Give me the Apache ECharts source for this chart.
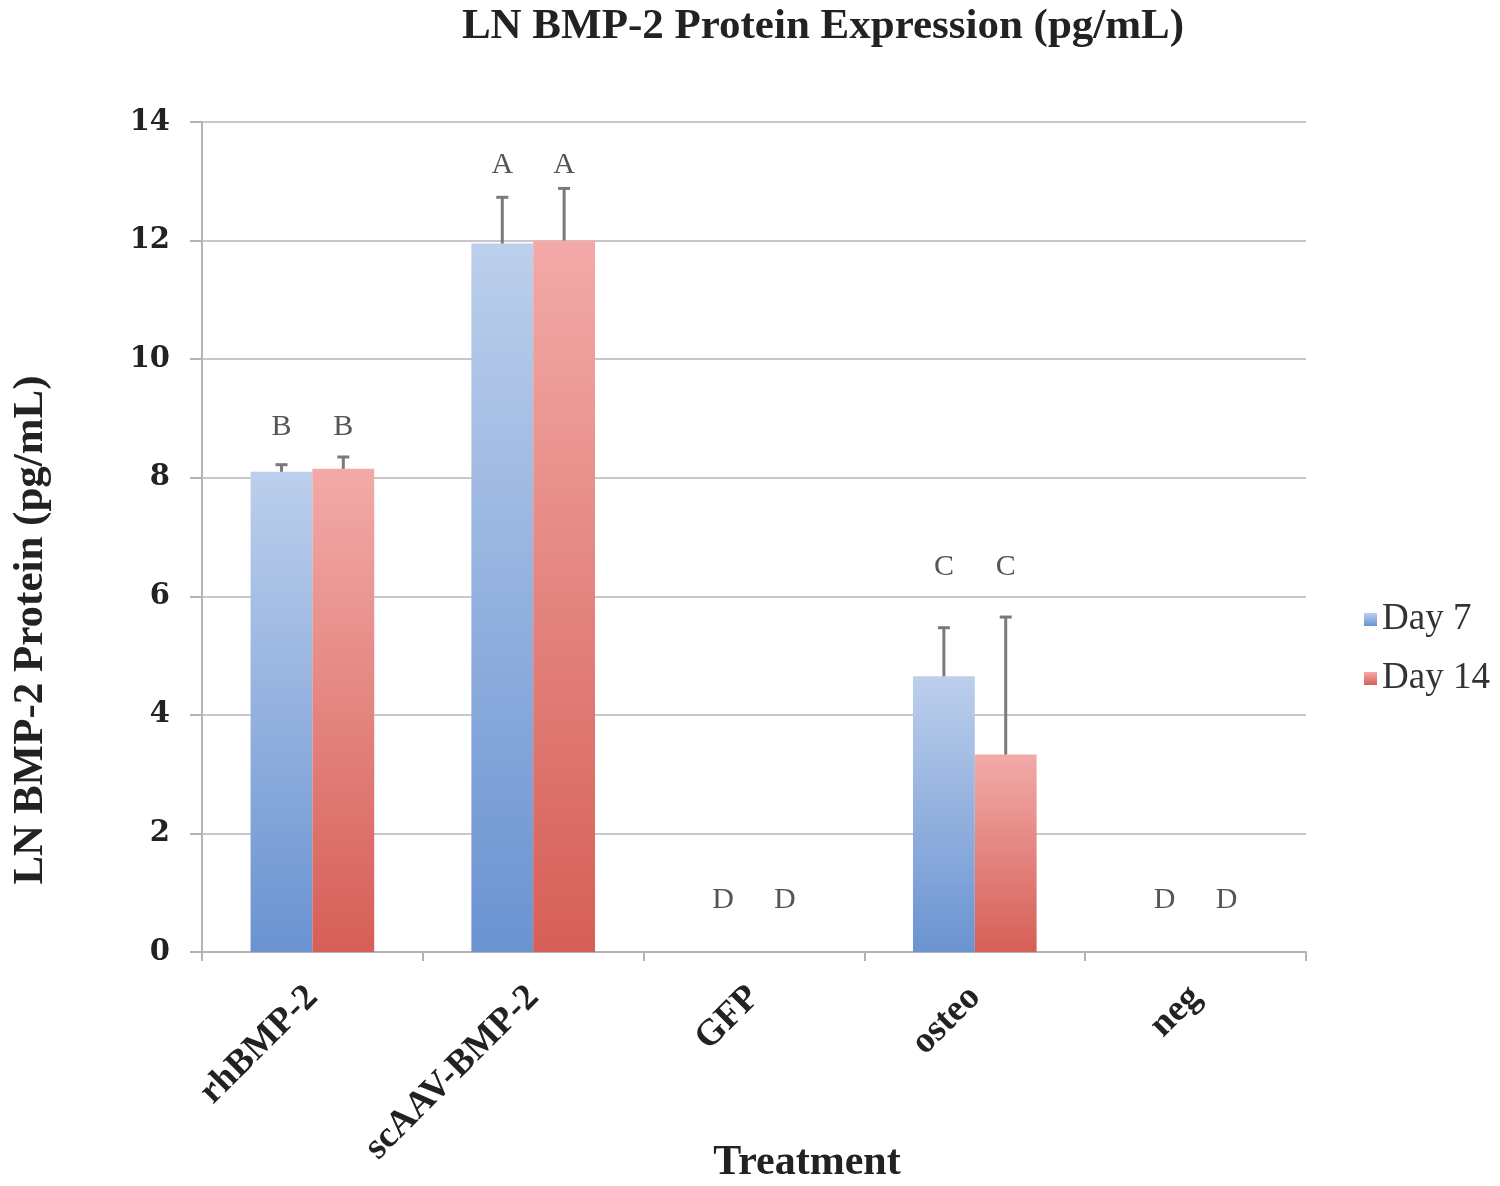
<!DOCTYPE html>
<html><head><meta charset="utf-8">
<script src="https://cdn.jsdelivr.net/npm/echarts@6/dist/echarts.min.js"></script>
<style>html,body{margin:0;padding:0;background:#fff}#c{width:1500px;height:1186px}</style>
</head><body><div id="c"></div>
<script>
const categories = ['rhBMP-2', 'scAAV-BMP-2', 'GFP', 'osteo', 'neg'];
const seriesNames = ['Day 7', 'Day 14'];
const day7 = [8.10, 11.95, 0, 4.65, 0];
const day14 = [8.15, 12.0, 0, 3.33, 0];
const err7 = [0.12, 0.78, 0, 0.82, 0];
const err14 = [0.2, 0.88, 0, 2.32, 0];
const letters7 = ['B', 'A', 'D', 'C', 'D'];
const letters14 = ['B', 'A', 'D', 'C', 'D'];
const letterY = [8.85, 13.27, 0.88, 6.49, 0.88];
const yTicks = [0, 2, 4, 6, 8, 10, 12, 14];

const SERIF = '"Liberation Serif", "DejaVu Serif", serif';
const BAR_FRAC = 0.28;

function grad(top, bottom) {
  return new echarts.graphic.LinearGradient(0, 0, 0, 1, [
    {offset: 0, color: top}, {offset: 1, color: bottom}]);
}

function errSeries(vals, errs, side) {
  return {
    type: 'custom',
    name: 'err' + side,
    data: categories.map((c, i) => [i, vals[i], errs[i]]),
    z: 5,
    renderItem: function (params, api) {
      const i = api.value(0), v = api.value(1), e = api.value(2);
      if (!e) return null;
      const band = api.size([1, 0])[0];
      const off = side * band * BAR_FRAC / 2;
      const p0 = api.coord([i, v]);
      const p1 = api.coord([i, v + e]);
      const x = p0[0] + off;
      const cap = 6;
      const style = {stroke: '#7a7a7a', lineWidth: 3};
      return {type: 'group', children: [
        {type: 'line', shape: {x1: x, y1: p0[1], x2: x, y2: p1[1]}, style: style},
        {type: 'line', shape: {x1: x - cap, y1: p1[1], x2: x + cap, y2: p1[1]}, style: style}
      ]};
    }
  };
}

function letterSeries(lets, side) {
  return {
    type: 'custom',
    name: 'let' + side,
    data: categories.map((c, i) => [i, letterY[i], lets[i]]),
    z: 6,
    renderItem: function (params, api) {
      const i = api.value(0), v = api.value(1);
      const band = api.size([1, 0])[0];
      const off = side * band * BAR_FRAC / 2;
      const p = api.coord([i, v]);
      return {type: 'text', x: p[0] + off, y: p[1], style: {
        text: lets[params.dataIndex], fill: '#555', font: '30px ' + SERIF,
        align: 'center', verticalAlign: 'middle'}};
    }
  };
}

const chart = echarts.init(document.getElementById('c'));
chart.setOption({
  backgroundColor: '#fff',
  animation: false,
  title: {
    text: 'LN BMP-2 Protein Expression (pg/mL)',
    left: 818, top: 0, textAlign: 'center',
    textStyle: {fontFamily: SERIF, fontWeight: 'bold', fontSize: 43, color: '#222'}
  },
  legend: {
    data: seriesNames,
    orient: 'vertical', left: 1359, top: 596,
    itemWidth: 13, itemHeight: 13, itemGap: 22, icon: 'rect',
    textStyle: {fontFamily: SERIF, fontSize: 37, color: '#333'}
  },
  grid: {left: 202, right: 194, top: 122, bottom: 234, containLabel: false, outerBoundsMode: 'none'},
  xAxis: {
    type: 'category', data: categories,
    name: 'Treatment', nameLocation: 'middle', nameGap: 190, nameMoveOverlap: false,
    nameTextStyle: {fontFamily: SERIF, fontWeight: 'bold', fontSize: 42, color: '#222',
      padding: [0, 0, 0, 106]},
    axisLine: {lineStyle: {color: '#b9b0b0', width: 2}},
    axisTick: {show: true, length: 9, lineStyle: {color: '#b9b0b0', width: 2}},
    axisLabel: {rotate: 45, margin: 40, fontFamily: SERIF, fontWeight: 'bold', fontSize: 37, color: '#222'}
  },
  yAxis: {
    type: 'value', min: 0, max: 14, interval: 2,
    name: 'LN BMP-2 Protein (pg/mL)', nameLocation: 'middle', nameGap: 150, nameRotate: 90,
    nameMoveOverlap: false,
    nameTextStyle: {fontFamily: SERIF, fontWeight: 'bold', fontSize: 43, color: '#222',
      padding: [0, 186, 0, 0]},
    axisLine: {show: true, lineStyle: {color: '#b9b0b0', width: 2}},
    axisTick: {show: true, length: 12, lineStyle: {color: '#b9b0b0', width: 2}},
    axisLabel: {margin: 32, fontFamily: '"DejaVu Serif", serif', fontWeight: 'bold', fontSize: 29, color: '#222',
      formatter: v => yTicks.includes(v) ? String(v) : ''},
    splitLine: {lineStyle: {color: '#cdc6c6', width: 2}}
  },
  series: [
    {name: seriesNames[0], type: 'bar', data: day7, barWidth: (BAR_FRAC * 100) + '%', barGap: '0%',
      itemStyle: {color: grad('#bccfec', '#6a93d1')}},
    {name: seriesNames[1], type: 'bar', data: day14, barWidth: (BAR_FRAC * 100) + '%', barGap: '0%',
      itemStyle: {color: grad('#f2aaa8', '#d65f57')}},
    errSeries(day7, err7, -1),
    errSeries(day14, err14, 1),
    letterSeries(letters7, -1),
    letterSeries(letters14, 1)
  ]
});
</script></body></html>
